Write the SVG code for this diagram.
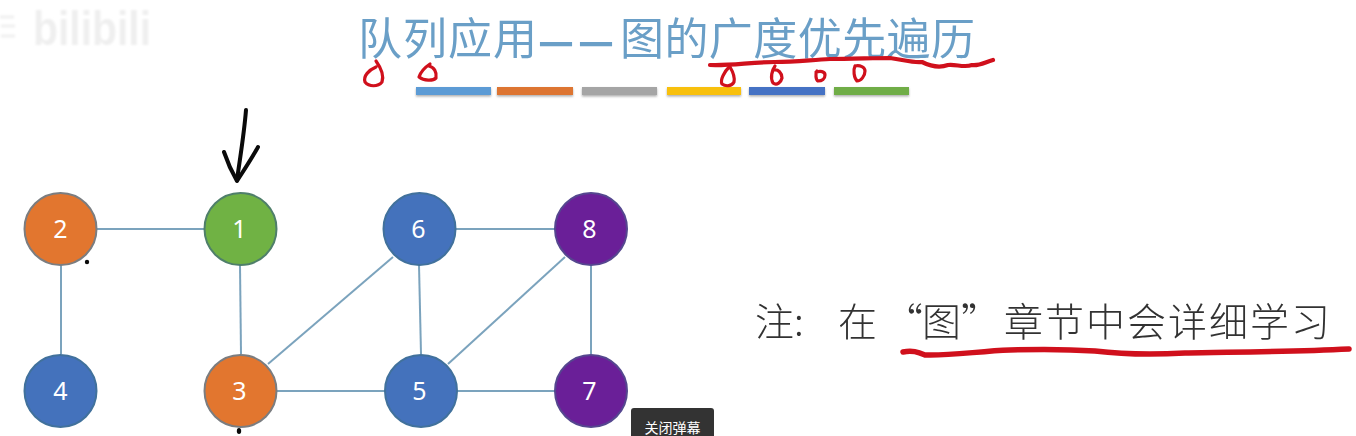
<svg xmlns="http://www.w3.org/2000/svg" width="1356" height="436" viewBox="0 0 1356 436">
<style>
.edge{stroke:#7ba3bd;stroke-width:2;fill:none}
.node{stroke-width:2}
.num{font-family:"Noto Sans","Open Sans",sans-serif;font-size:25px;fill:#fff;text-anchor:middle}
.title{font-family:"Noto Sans CJK SC","Liberation Sans",sans-serif;font-size:44px;fill:#6b9fc7}
.dash{font-family:"Noto Sans CJK SC","Liberation Sans",sans-serif;font-size:44px;font-weight:700;fill:#6b9fc7}
.note{font-family:"Noto Sans CJK SC","Liberation Serif",serif;font-weight:300;font-size:39px;fill:#333}
.red{fill:none;stroke:#d0101c;stroke-width:3.2;stroke-linecap:round;stroke-linejoin:round}
.red-line{stroke-width:4.2}
.red-thick{stroke-width:5.5}
.ink{fill:none;stroke:#0a0a0a;stroke-width:4;stroke-linecap:round;stroke-linejoin:round}
.bar{filter:url(#sh)}
</style>
<defs>
<filter id="sh" x="-5%" y="-40%" width="110%" height="200%"><feDropShadow dx="0" dy="1.5" stdDeviation="1" flood-color="#777" flood-opacity="0.6"/></filter>
<filter id="soft" x="-5%" y="-5%" width="110%" height="110%"><feGaussianBlur stdDeviation="1.2"/></filter>
<filter id="vid" x="-2%" y="-5%" width="104%" height="110%"><feGaussianBlur stdDeviation="0.45"/></filter>
</defs>
<rect width="1356" height="436" fill="#fff"/>
<g id="watermark" filter="url(#soft)">
<text x="33" y="45" font-family="Liberation Sans, sans-serif" font-weight="700" font-size="48" fill="#efefef" textLength="118" lengthAdjust="spacingAndGlyphs">bilibili</text>
<path d="M0 17H14M1 26H15M1 36H15" fill="none" stroke="#f0f0f0" stroke-width="3"/>
</g>
<g id="title" filter="url(#vid)">
<text class="title" x="358" y="55" textLength="179">队列应用</text>
<text class="dash" x="538" y="57" textLength="36" lengthAdjust="spacingAndGlyphs">—</text>
<text class="dash" x="578" y="57" textLength="36" lengthAdjust="spacingAndGlyphs">—</text>
<text class="title" x="620" y="55" textLength="355">图的广度优先遍历</text>
</g>
<g id="bars">
<rect class="bar" x="416" y="87" width="75" height="8" fill="#5b9bd5"/>
<rect class="bar" x="497" y="87" width="76" height="8" fill="#dd7431"/>
<rect class="bar" x="582" y="87" width="75" height="8" fill="#a5a5a5"/>
<rect class="bar" x="667" y="87" width="74" height="8" fill="#f8c010"/>
<rect class="bar" x="749" y="87" width="76" height="8" fill="#4472c4"/>
<rect class="bar" x="834" y="87" width="75" height="8" fill="#70ad47"/>
</g>
<g id="connectors">
<line class="edge" x1="96" y1="229" x2="204" y2="229"/>
<line class="edge" x1="61" y1="265" x2="61" y2="354"/>
<line class="edge" x1="240" y1="265" x2="241" y2="354"/>
<line class="edge" x1="268" y1="364" x2="393" y2="257"/>
<line class="edge" x1="277" y1="391" x2="385" y2="391"/>
<line class="edge" x1="455" y1="229" x2="555" y2="229"/>
<line class="edge" x1="419" y1="265" x2="421" y2="354"/>
<line class="edge" x1="448" y1="364" x2="565" y2="257"/>
<line class="edge" x1="457" y1="391" x2="555" y2="391"/>
<line class="edge" x1="591" y1="265" x2="591" y2="354"/>
</g>
<g id="node-1"><circle class="node" cx="240.5" cy="229" r="36" fill="#70b244" stroke="#4f7f6a"/><text class="num" x="239.5" y="238">1</text></g>
<g id="node-2"><circle class="node" cx="60.5" cy="229" r="36" fill="#e2762f" stroke="#7b7d80"/><text class="num" x="60.5" y="238">2</text></g>
<g id="node-3"><circle class="node" cx="240.5" cy="391" r="36" fill="#e2762f" stroke="#7b7d80"/><text class="num" x="239.5" y="400">3</text></g>
<g id="node-4"><circle class="node" cx="60.5" cy="391" r="36" fill="#4472bc" stroke="#41719c"/><text class="num" x="60.5" y="400">4</text></g>
<g id="node-5"><circle class="node" cx="421" cy="391" r="36" fill="#4472bc" stroke="#41719c"/><text class="num" x="419.5" y="400">5</text></g>
<g id="node-6"><circle class="node" cx="419.5" cy="229" r="36" fill="#4472bc" stroke="#41719c"/><text class="num" x="418.5" y="238">6</text></g>
<g id="node-7"><circle class="node" cx="591" cy="391" r="36" fill="#6a1f98" stroke="#55468f"/><text class="num" x="589.5" y="400">7</text></g>
<g id="node-8"><circle class="node" cx="591" cy="229" r="36" fill="#6a1f98" stroke="#55468f"/><text class="num" x="589.5" y="238">8</text></g>
<g id="ink-black">
<path class="ink" d="M246 110C244 135 240 158 237 180"/>
<path class="ink" d="M224 152C228 164 233 174 237 181C244 170 252 158 258 147"/>
<circle cx="87" cy="262" r="2.2" fill="#0a0a0a"/>
<ellipse cx="239" cy="431" rx="2.2" ry="3" fill="#0a0a0a"/>
</g>
<g id="ink-red">
<path class="red" d="M376 61C381 68 384 76 382 82C378 87 369 87 365 82C363 76 369 70 376 67"/>
<path class="red" d="M430 64C424 68 420 74 419 77C424 81 433 81 436 78C437 72 434 67 429 66"/>
<path class="red red-line" d="M710 65C730 66 752 62 775 62C795 62 810 60 830 59C850 59 875 58 890 58C905 60 912 63 922 62C930 66 940 68 948 65C956 64 964 68 972 65C980 66 985 62 993 60"/>
<path class="red" d="M730 66C724 72 720 80 722 84C726 87 732 86 734 82C735 77 733 72 730 67"/>
<path class="red" d="M775 66C772 70 770 78 773 83C777 86 781 82 782 78C782 73 778 69 774 70"/>
<path class="red" d="M817 71C815 74 816 80 818 81C822 81 825 79 825 75C825 71 820 71 816 72"/>
<path class="red" d="M855 66C853 70 854 78 857 81C861 81 865 76 865 71C865 67 860 65 855 66"/>
<path class="red red-thick" d="M903 352C912 350 918 352 925 355C950 356 980 351 1010 350C1040 349 1065 349 1095 351C1120 354 1150 355 1185 353C1230 352 1290 352 1349 349"/>
</g>
<g id="note" filter="url(#vid)">
<text class="note" x="755" y="336">注:</text>
<text class="note" x="838" y="336">在</text>
<text class="note" x="884" y="336">“</text>
<text class="note" x="922" y="336">图</text>
<text class="note" x="961" y="336">”</text>
<text class="note" x="1004" y="336" textLength="326">章节中会详细学习</text>
</g>
<g id="tooltip">
<path d="M631 436V411a3 3 0 0 1 3-3H711a3 3 0 0 1 3 3V436Z" fill="#333"/>
<text x="672.5" y="433" text-anchor="middle" font-family="Noto Sans CJK SC,sans-serif" font-size="14px" fill="#fff">关闭弹幕</text>
</g>
</svg>
